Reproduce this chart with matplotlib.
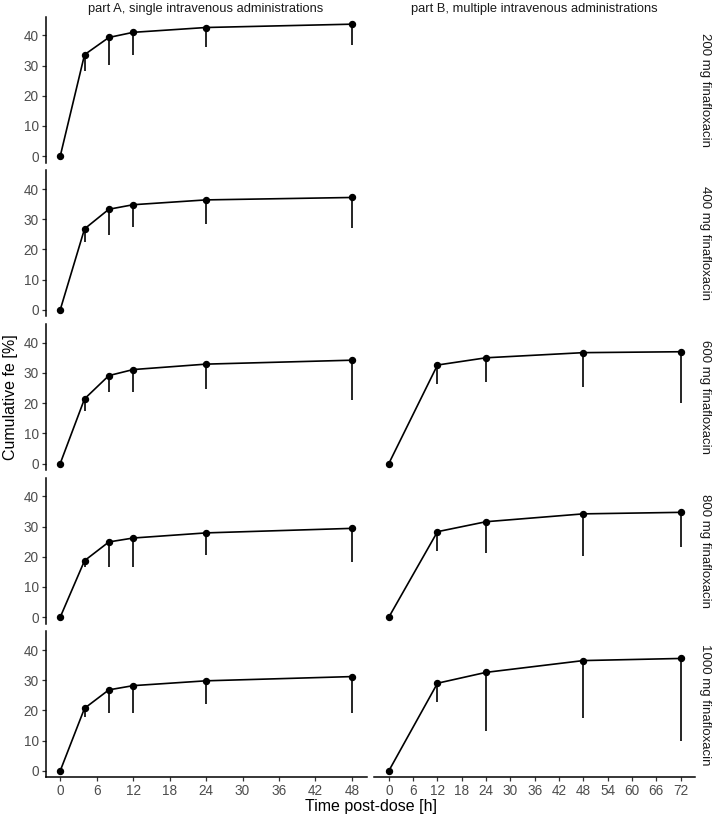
import matplotlib
matplotlib.use('Agg')
import matplotlib.pyplot as plt
import numpy as np

plt.rcParams['font.family'] = ['Liberation Sans', 'DejaVu Sans']

#dose groups, one row each
doses = ['200 mg finafloxacin', '400 mg finafloxacin', '600 mg finafloxacin',
         '800 mg finafloxacin', '1000 mg finafloxacin']

#part A, single administration
time_a = [0, 4, 8, 12, 24, 48]
mean_a = [
    [0, 33.6, 39.3, 41.0, 42.6, 43.7],
    [0, 26.8, 33.3, 34.8, 36.4, 37.2],
    [0, 21.4, 29.1, 31.1, 32.9, 34.2],
    [0, 18.7, 24.9, 26.2, 27.9, 29.4],
    [0, 20.7, 26.8, 28.2, 29.8, 31.2],
]
lower_a = [
    [0, 28.2, 30.1, 33.6, 36.1, 36.9],
    [0, 22.6, 24.8, 27.5, 28.5, 27.0],
    [0, 17.4, 23.8, 23.8, 24.8, 20.9],
    [0, 16.5, 16.7, 16.7, 20.6, 18.1],
    [0, 17.8, 19.3, 19.1, 22.1, 19.3],
]

#part B, multiple administrations (only 600-1000 mg)
time_b = [0, 12, 24, 48, 72]
mean_b = [
    None,
    None,
    [0, 32.6, 35.0, 36.7, 37.0],
    [0, 28.3, 31.6, 34.2, 34.7],
    [0, 29.0, 32.6, 36.5, 37.2],
]
lower_b = [
    None,
    None,
    [0, 26.4, 27.0, 25.4, 20.0],
    [0, 22.0, 21.2, 20.4, 23.1],
    [0, 22.9, 13.3, 17.6, 10.0],
]

col_titles = ['part A, single intravenous administrations',
              'part B, multiple intravenous administrations']
y_ticks = [0, 10, 20, 30, 40]
x_ticks_a = list(range(0, 49, 6))
x_ticks_b = list(range(0, 73, 6))

tick_col = '#4D4D4D'


def draw_panel(ax, t, m, lo):
    t = np.array(t)
    m = np.array(m)
    lo = np.array(lo)
    #lower half of the error bar only
    ax.vlines(t, lo, m, color='black', lw=1.2, zorder=2)
    ax.plot(t, m, color='black', lw=1.2, marker='o', ms=4.3, zorder=3)


fig = plt.figure(figsize=(7.13, 8.19), dpi=100)
gs = fig.add_gridspec(5, 2, left=0.064, right=0.975, bottom=0.0507, top=0.9797,
                      hspace=0.051, wspace=0.024)

for r in range(5):
    for c in range(2):
        ax = fig.add_subplot(gs[r, c])
        if c == 0:
            draw_panel(ax, time_a, mean_a[r], lower_a[r])
            ax.set_xlim(-2.4, 50.4)
            ax.set_xticks(x_ticks_a)
        else:
            if mean_b[r] is not None:
                draw_panel(ax, time_b, mean_b[r], lower_b[r])
            ax.set_xlim(-3.6, 75.6)
            ax.set_xticks(x_ticks_b)
        ax.set_ylim(-2.2, 46.2)
        ax.set_yticks(y_ticks)
        for s in ['top', 'right']:
            ax.spines[s].set_visible(False)
        ax.spines['left'].set_visible(c == 0)
        ax.spines['bottom'].set_visible(r == 4)
        for s in ['left', 'bottom']:
            ax.spines[s].set_linewidth(1.1)
        ax.tick_params(axis='both', colors='#333333', labelcolor=tick_col,
                       labelsize=9.8, length=3, width=0.9, pad=2)
        if c == 1:
            ax.tick_params(axis='y', left=False, labelleft=False)
        if r != 4:
            ax.tick_params(axis='x', bottom=False, labelbottom=False)
        if r == 0:
            ax.set_title(col_titles[c], fontsize=9.3, color='#1A1A1A', pad=3)
        if c == 1:
            ax.text(1.012, 0.5, doses[r], transform=ax.transAxes, rotation=-90,
                    ha='left', va='center', fontsize=9.5, color='#1A1A1A')

fig.text(0.52, 0.006, 'Time post-dose [h]', ha='center', va='bottom', fontsize=11.5)
fig.text(0.004, 0.515, 'Cumulative fe [%]', ha='left', va='center',
         rotation=90, fontsize=11.5)

fig.savefig('out.png', dpi=100)
